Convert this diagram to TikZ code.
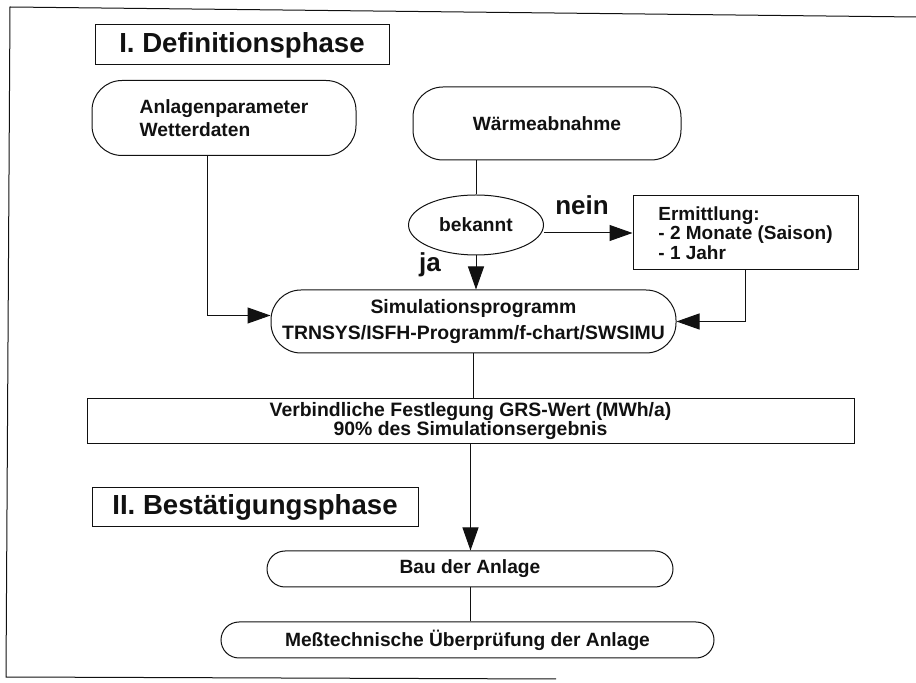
\documentclass[tikz,border=0pt]{standalone}
\usepackage{fontspec}
\setmainfont{Liberation Sans}
\usepackage{tikz}
\usetikzlibrary{positioning, arrows.meta, shapes.geometric}
\definecolor{ink}{HTML}{111111}

\begin{document}
\begin{tikzpicture}[x=0.5pt, y=-0.5pt, draw=ink, text=ink, line width=0.5pt,
  txt/.style={font=\bfseries\fontsize{9.6}{10.5}\selectfont},
  rbox/.style={txt, draw, rounded corners=15pt, inner sep=0pt, align=center},
  pbox/.style={txt, draw, inner sep=0pt, align=center},
  phase/.style={draw, inner sep=0pt, font=\bfseries\fontsize{13.8}{16}\selectfont},
  answer/.style={font=\bfseries\fontsize{13}{15}\selectfont},
  flow/.style={-{Triangle[length=11.5pt, width=8pt]}}]
\useasboundingbox (0,0) rectangle (916,683);
\draw (916,17) -- (10,7) -- (6,677) -- (556,679);
\node[phase, minimum width=147pt, minimum height=20pt] (defphase) at (242,45) {I. Definitionsphase};
\node[rbox, align=left, font=\bfseries\fontsize{9.6}{11.5}\selectfont, minimum width=132pt, minimum height=37.5pt] (anlagen) at (224,118) {Anlagenparameter\\Wetterdaten};
\node[rbox, minimum width=134pt, minimum height=36.5pt] (waerme) at (547,123.5) {Wärmeabnahme};
\node[txt, draw, ellipse, inner sep=0pt, minimum width=67.5pt, minimum height=30pt] (bekannt) at (476,225) {bekannt};
\node[pbox, align=left, font=\bfseries\fontsize{9.5}{8.8}\selectfont, minimum width=112.5pt, minimum height=37pt] (ermittlung) at (745.5,233) {Ermittlung:\\- 2 Monate (Saison)\\- 1 Jahr};
\node[rbox, font=\bfseries\fontsize{9.7}{13}\selectfont, minimum width=202.5pt, minimum height=31.5pt] (simul) at (473.5,321.5) {Simulationsprogramm\\TRNSYS/ISFH-Programm/f-chart/SWSIMU};
\node[pbox, font=\bfseries\fontsize{9.7}{9.5}\selectfont, minimum width=383.5pt, minimum height=22.5pt] (festlegung) at (470.5,421) {Verbindliche Festlegung GRS-Wert (MWh/a)\\90\% des Simulationsergebnis};
\node[phase, minimum width=163pt, minimum height=19.5pt] (bestphase) at (255,507.5) {II. Bestätigungsphase};
\node[rbox, rounded corners=9pt, minimum width=203pt, minimum height=18pt] (bau) at (470,569) {Bau der Anlage};
\node[rbox, rounded corners=9pt, minimum width=246.5pt, minimum height=18pt] (mess) at (467.5,640) {Meßtechnische Überprüfung der Anlage};
\node[answer] (nein) at (582,205) {nein};
\node[answer] (ja) at (430,265) {ja};
\draw[flow] ([xshift=-8.5pt]anlagen.south) |- ([yshift=3pt]simul.west);
\draw (bekannt.north |- waerme.south) -- (bekannt.north);
\draw[flow] (ermittlung.west -| bekannt.east) -- (ermittlung.west);
\draw[flow] (bekannt.south) -- (bekannt.south |- simul.north);
\draw[flow] (ermittlung.south) |- (simul.east);
\draw (simul.south) -- (simul.south |- festlegung.north);
\draw[flow] (festlegung.south) -- (festlegung.south |- bau.north);
\draw (bau.south) -- (bau.south |- mess.north);
\end{tikzpicture}
\end{document}
